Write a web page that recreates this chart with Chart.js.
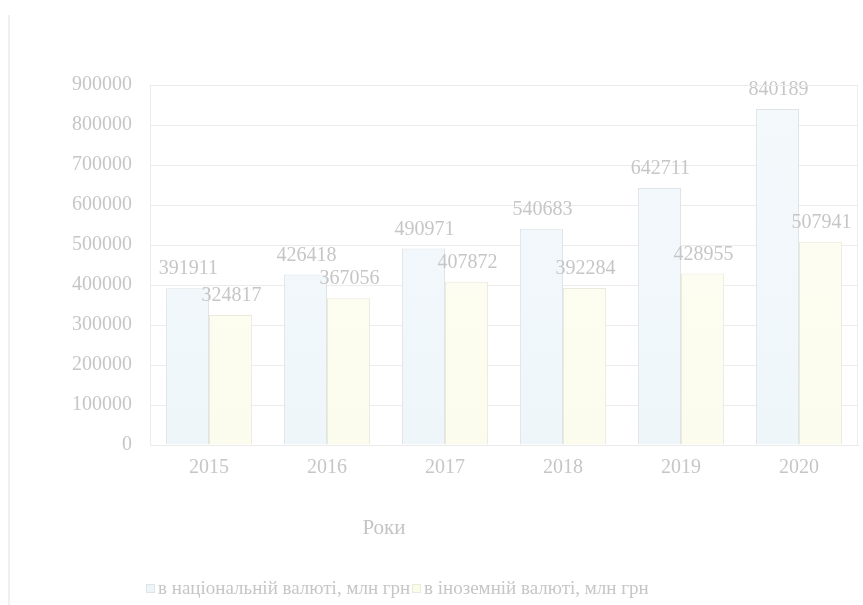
<!DOCTYPE html>
<html>
<head>
<meta charset="utf-8">
<script src="https://cdn.jsdelivr.net/npm/chart.js@4.4.1/dist/chart.umd.min.js"></script>
<style>
  html, body { margin: 0; padding: 0; background: #fff; }
  #wrap { position: relative; width: 863px; height: 605px; }
</style>
</head>
<body>
<div id="wrap"><canvas id="depositChart" width="863" height="605"></canvas></div>
<script>
// Роки і обсяги депозитів
const years = ['2015', '2016', '2017', '2018', '2019', '2020'];
const nationalCurrency = [391911, 426418, 490971, 540683, 642711, 840189];
const foreignCurrency = [324817, 367056, 407872, 392284, 428955, 507941];
const seriesNames = ['в національній валюті, млн грн', 'в іноземній валюті, млн грн'];
const axisTitle = 'Роки';

const serif = "'Liberation Serif', 'Times New Roman', serif";
const textColor = '#c6c6c6';

// вертикальний градієнт для стовпця (легкий об'єм)
function barFill(chart, light, mid) {
  const a = chart.chartArea;
  if (!a) return mid;
  const g = chart.ctx.createLinearGradient(0, a.top, 0, a.bottom);
  g.addColorStop(0, light);
  g.addColorStop(1, mid);
  return g;
}

// підписи значень над стовпцями
const valueLabels = {
  id: 'valueLabels',
  afterDatasetsDraw(chart) {
    const ctx = chart.ctx;
    ctx.save();
    ctx.font = '20px ' + serif;
    ctx.fillStyle = textColor;
    ctx.textAlign = 'center';
    ctx.textBaseline = 'middle';
    chart.data.datasets.forEach((ds, i) => {
      chart.getDatasetMeta(i).data.forEach((bar, j) => {
        ctx.fillText(String(ds.data[j]), bar.x + 1, bar.y - 19);
      });
    });
    ctx.restore();
  }
};

// рамка області побудови, назва осі та легенда
const frame = {
  id: 'frame',
  beforeDraw(chart) {
    const ctx = chart.ctx;
    ctx.save();
    ctx.strokeStyle = '#f0f0f0';
    ctx.lineWidth = 2;
    ctx.beginPath();
    ctx.moveTo(9, 15);
    ctx.lineTo(9, 605);
    ctx.stroke();
    ctx.restore();
  },
  afterDraw(chart) {
    const ctx = chart.ctx;
    const a = chart.chartArea;
    ctx.save();
    ctx.strokeStyle = '#ebebeb';
    ctx.lineWidth = 1;
    ctx.strokeRect(a.left + 0.5, a.top + 0.5, a.right - a.left - 1, a.bottom - a.top);

    ctx.font = '21px ' + serif;
    ctx.fillStyle = '#c4c4c4';
    ctx.textAlign = 'center';
    ctx.textBaseline = 'middle';
    ctx.fillText(axisTitle, 384, 528);

    // легенда
    ctx.font = '19px ' + serif;
    ctx.textAlign = 'left';
    const boxX = [146, 412];
    const boxColors = ['#eef5f9', '#fcfceb'];
    chart.data.datasets.forEach((ds, i) => {
      const x = boxX[i];
      ctx.fillStyle = boxColors[i];
      ctx.strokeStyle = ds.borderColor;
      ctx.fillRect(x, 584, 9, 9);
      ctx.strokeRect(x + 0.5, 584.5, 8, 8);
      ctx.fillStyle = textColor;
      ctx.fillText(ds.label, x + 12, 589);
    });
    ctx.restore();
  }
};

new Chart(document.getElementById('depositChart'), {
  type: 'bar',
  data: {
    labels: years,
    datasets: [
      {
        label: seriesNames[0],
        data: nationalCurrency,
        backgroundColor: (c) => barFill(c.chart, '#f4f9fc', '#eff6fa'),
        borderColor: '#dfe4e7',
        borderWidth: 1,
        categoryPercentage: 0.73,
        barPercentage: 1
      },
      {
        label: seriesNames[1],
        data: foreignCurrency,
        backgroundColor: (c) => barFill(c.chart, '#fdfdf3', '#fcfcee'),
        borderColor: '#eaeadd',
        borderWidth: 1,
        categoryPercentage: 0.73,
        barPercentage: 1
      }
    ]
  },
  options: {
    responsive: false,
    animation: false,
    layout: { padding: { left: 0, right: 5, top: 85, bottom: 0 } },
    plugins: {
      legend: { display: false },
      tooltip: { enabled: false }
    },
    scales: {
      x: {
        grid: { display: false, drawTicks: false },
        border: { color: '#e3e3e3', width: 1 },
        ticks: { color: textColor, font: { family: serif, size: 20 }, padding: 11 },
        afterFit(scale) { scale.height = 160; }
      },
      y: {
        min: 0,
        max: 900000,
        grid: { color: '#ececec', drawTicks: false },
        border: { color: '#e6e6e6' },
        ticks: {
          stepSize: 100000,
          color: textColor,
          font: { family: serif, size: 20 },
          padding: 18,
          callback: (v) => String(v)
        },
        afterFit(scale) { scale.width = 150; }
      }
    }
  },
  plugins: [valueLabels, frame]
});
</script>
</body>
</html>
